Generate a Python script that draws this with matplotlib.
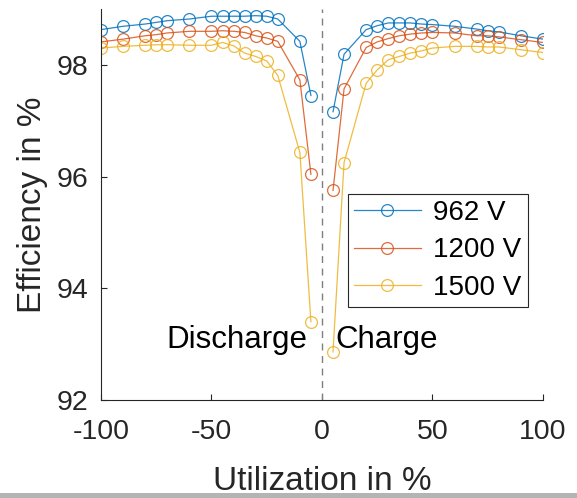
"""
plot.py

Converter efficiency over utilization (discharge < 0 < charge)
for three DC-link voltages.
"""

import matplotlib
matplotlib.use("Agg")
import matplotlib.pyplot as plt
from matplotlib.lines import Line2D

# ─── Data ──────────────────────────────────────────────────────────────────────
utilization = [-100, -90, -80, -75, -70, -60, -50, -45, -40, -35, -30, -25, -20, -10, -5,
               5, 10, 20, 25, 30, 35, 40, 45, 50, 60, 70, 75, 80, 90, 100]

eff_962 = [98.63, 98.69, 98.73, 98.76, 98.79, 98.82, 98.87, 98.87, 98.87, 98.87, 98.88, 98.87, 98.82, 98.42, 97.45,
           97.16, 98.19, 98.63, 98.70, 98.75, 98.75, 98.75, 98.73, 98.72, 98.69, 98.64, 98.61, 98.59, 98.52, 98.46]

eff_1200 = [98.41, 98.46, 98.52, 98.54, 98.57, 98.60, 98.60, 98.61, 98.60, 98.58, 98.52, 98.48, 98.42, 97.73, 96.04,
            95.75, 97.57, 98.31, 98.41, 98.47, 98.52, 98.55, 98.57, 98.58, 98.57, 98.52, 98.52, 98.50, 98.45, 98.40]

eff_1500 = [98.30, 98.33, 98.35, 98.36, 98.36, 98.35, 98.35, 98.40, 98.34, 98.21, 98.15, 98.07, 97.81, 96.43, 93.40,
            92.86, 96.25, 97.67, 97.91, 98.09, 98.15, 98.21, 98.25, 98.30, 98.33, 98.33, 98.32, 98.32, 98.27, 98.22]

series_labels = ["962 V", "1200 V", "1500 V"]
series_colors = ["#0072BD", "#D95319", "#EDB120"]

x_ticks = [-100, -50, 0, 50, 100]
y_ticks = [92, 94, 96, 98]
# ────────────────────────────────────────────────────────────────────────────────

FONT = "Liberation Sans"
AX_COLOR = "#262626"
LINE_KW = dict(lw=0.9, marker="o", ms=8.5, mfc="none", mew=0.9, alpha=0.85)


def main():
    plt.rcParams["font.family"] = FONT
    plt.rcParams["axes.unicode_minus"] = False

    fig = plt.figure(figsize=(5.77, 4.98), dpi=100)
    ax = fig.add_axes([0.175, 0.197, 0.766, 0.785])

    # discharge and charge branches are drawn separately (no line across 0)
    dis = [i for i, u in enumerate(utilization) if u < 0]
    chg = [i for i, u in enumerate(utilization) if u > 0]
    for y, color in zip([eff_962, eff_1200, eff_1500], series_colors):
        for idx in (dis, chg):
            ax.plot([utilization[i] for i in idx], [y[i] for i in idx],
                    color=color, mec=color, **LINE_KW)

    ax.axvline(0, color="#7f7f7f", lw=1.0, ls=(0, (5, 4)))

    ax.text(-6.5, 92.93, "Discharge", ha="right", va="baseline", fontsize=22.5, color="black")
    ax.text(6.0, 92.93, "Charge", ha="left", va="baseline", fontsize=22.5, color="black")

    ax.set_xlim(-100, 100)
    ax.set_ylim(92, 99)
    ax.set_xticks(x_ticks)
    ax.set_yticks(y_ticks)

    ax.spines["top"].set_visible(False)
    ax.spines["right"].set_visible(False)
    for s in ("left", "bottom"):
        ax.spines[s].set_color(AX_COLOR)
        ax.spines[s].set_linewidth(0.8)

    ax.tick_params(axis="both", direction="in", length=4, width=0.8,
                   colors=AX_COLOR, labelsize=20.5)
    ax.tick_params(axis="x", pad=14)
    ax.tick_params(axis="y", pad=9)

    ax.set_xlabel("Utilization in %", fontsize=24, color=AX_COLOR, labelpad=15)
    ax.set_ylabel("Efficiency in %", fontsize=24, color=AX_COLOR, labelpad=6)

    handles = [Line2D([], [], color=c, mec=c, **LINE_KW) for c in series_colors]
    leg = ax.legend(handles, series_labels, loc="upper left", bbox_to_anchor=(0.559, 0.527),
                    fontsize=20, frameon=True, fancybox=False, framealpha=1,
                    edgecolor=AX_COLOR, handlelength=2.4, handletextpad=0.45,
                    labelspacing=0.41, borderpad=0.22, borderaxespad=0)
    leg.get_frame().set_linewidth(0.8)

    # grey strip along bottom edge (as in the source screenshot)
    fig.add_artist(plt.Rectangle((0, 0), 1, 5 / 498, transform=fig.transFigure,
                                 color="#b4b4b4", lw=0))

    fig.savefig("out.png", dpi=100)


if __name__ == "__main__":
    main()
